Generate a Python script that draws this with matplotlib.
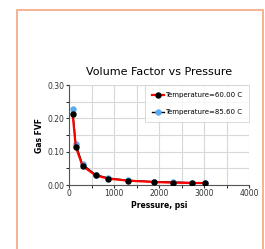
import matplotlib.pyplot as plt
from matplotlib.patches import Rectangle

# data
pressure = [80, 150, 300, 590, 870, 1310, 1880, 2310, 2740, 3020]
fvf_60 = [0.213, 0.115, 0.057, 0.029, 0.019, 0.013, 0.009, 0.007, 0.006, 0.006]
fvf_85 = [0.228, 0.123, 0.062, 0.031, 0.021, 0.014, 0.010, 0.009, 0.007, 0.006]
labels = ["Temperature=60.00 C", "Temperature=85.60 C"]

fig = plt.figure(figsize=(2.65, 2.49), dpi=100)
fig.patches.append(Rectangle((16.5 / 265, -0.1), (263 - 16.5) / 265, 1.1 - 10.5 / 249,
                             transform=fig.transFigure, fill=False,
                             edgecolor="#f4a582", linewidth=1.2))

ax = fig.add_axes([69 / 265, 1 - 185 / 249, 180 / 265, 100 / 249])
ax.plot(pressure, fvf_85, color="black", lw=1.0, marker="o", ms=3.6,
        mfc="#5aaaf0", mec="#5aaaf0", label=labels[1], zorder=3)
ax.plot(pressure, fvf_60, color="red", lw=1.6, marker="o", ms=3.6,
        mfc="black", mec="black", label=labels[0], zorder=4)

ax.set_xlim(0, 4000)
ax.set_ylim(0, 0.30)
ax.set_xticks([0, 1000, 2000, 3000, 4000])
ax.set_xticks(range(0, 4001, 500), minor=True)
ax.set_yticks([0, 0.10, 0.20, 0.30])
ax.set_yticks([0.05, 0.15, 0.25], minor=True)
ax.set_yticklabels(["0.00", "0.10", "0.20", "0.30"])
ax.grid(True, which="both", color="#d8d8d8", lw=0.8)
ax.set_axisbelow(True)
ax.tick_params(labelsize=5.5, length=2, pad=1, colors="#333333")
ax.tick_params(which="minor", length=2)
for s in ["top", "right"]:
    ax.spines[s].set_visible(False)
ax.spines["left"].set_color("#555555")
ax.spines["bottom"].set_color("#555555")

ax.set_title("Volume Factor vs Pressure", fontsize=8, pad=7)
ax.set_xlabel("Pressure, psi", fontsize=5.5, fontweight="bold", labelpad=2)
ax.set_ylabel("Gas FVF", fontsize=5.5, fontweight="bold", labelpad=3)

h, l = ax.get_legend_handles_labels()
leg = ax.legend(h[::-1], l[::-1], loc="upper right", fontsize=5, frameon=True,
                fancybox=False, borderaxespad=0, handlelength=1.6,
                handletextpad=0.2, labelspacing=1.6, borderpad=1.0)
leg.get_frame().set_edgecolor("#cccccc")
leg.get_frame().set_linewidth(0.6)

fig.savefig("out.png", dpi=100)
